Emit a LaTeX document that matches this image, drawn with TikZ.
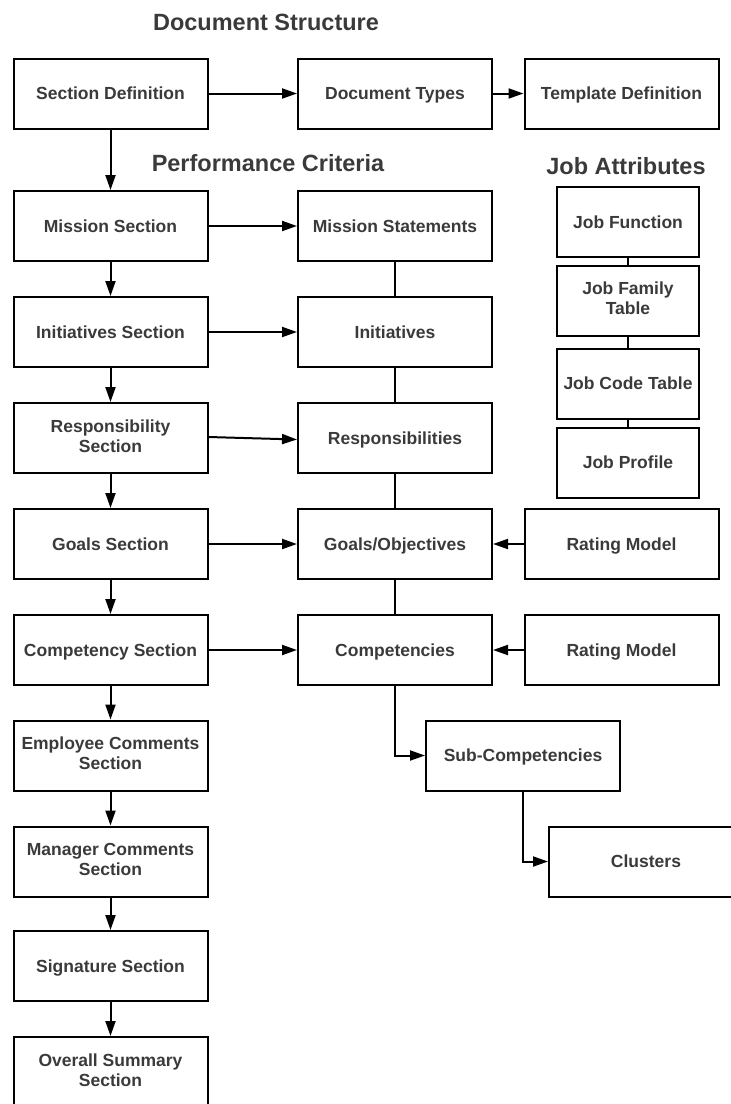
\documentclass[tikz,border=0pt]{standalone}
\usepackage{fontspec}
\setmainfont{Liberation Sans}
\usepackage{xcolor}
\usetikzlibrary{arrows.meta}
\definecolor{labelgray}{RGB}{58, 58, 58}
\newcommand{\boxstrut}{\rule[-4pt]{0pt}{20.5pt}}

\begin{document}
\begin{tikzpicture}[x=1pt, y=-1pt, line width=2pt,
  box/.style={rectangle, draw=black, line width=2pt, minimum width=194pt, minimum height=70pt,
    align=center, text=labelgray, font=\fontsize{17.5}{20}\selectfont\bfseries,
    execute at begin node=\boxstrut, execute at end node=\boxstrut},
  jobbox/.style={box, minimum width=142pt},
  title/.style={text=labelgray, font=\fontsize{23.5}{26}\selectfont\bfseries},
  arr/.style={-{Triangle[length=15pt, width=10pt]}},
  link/.style={-}]
\useasboundingbox (0,0) rectangle (731,1104);

% Headings
\node[title] (hdoc) at (266,22) {Document Structure};
\node[title] (hperf) at (268,163) {Performance Criteria};
\node[title] (hjob) at (626,166) {Job Attributes};

% Document structure row
\node[box] (secdef) at (110.5,93.5) {Section Definition};
\node[box] (doctypes) at (395,93.5) {Document Types};
\node[box] (template) at (621.5,93.5) {Template Definition};

% Section column
\node[box] (mission) at (110.5,226) {Mission Section};
\node[box] (initsec) at (110.5,332) {Initiatives Section};
\node[box] (respsec) at (110.5,438) {Responsibility\\Section};
\node[box] (goalsec) at (110.5,544) {Goals Section};
\node[box] (compsec) at (110.5,650) {Competency Section};
\node[box] (empsec) at (110.5,755.5) {Employee Comments\\Section};
\node[box] (mgrsec) at (110.5,861.5) {Manager Comments\\Section};
\node[box] (signsec) at (110.5,966) {Signature Section};
\node[box] (sumsec) at (110.5,1072) {Overall Summary\\Section};

% Criteria column
\node[box] (statements) at (395,226) {Mission Statements};
\node[box] (initiatives) at (395,332) {Initiatives};
\node[box] (resp) at (395,438) {Responsibilities};
\node[box] (goals) at (395,544) {Goals/Objectives};
\node[box] (comps) at (395,650) {Competencies};
\node[box] (subcomps) at (523,755.5) {Sub-Competencies};
\node[box] (clusters) at (646,861.5) {Clusters};

% Rating models
\node[box] (rategoals) at (621.5,544) {Rating Model};
\node[box] (ratecomps) at (621.5,650) {Rating Model};

% Job attributes
\node[jobbox] (jobfunc) at (628,222) {Job Function};
\node[jobbox] (jobfam) at (628,300.5) {Job Family\\Table};
\node[jobbox] (jobcode) at (628,383.5) {Job Code Table};
\node[jobbox] (jobprof) at (628,462.5) {Job Profile};

% Top row arrows
\draw[arr] (secdef) -- (doctypes);
\draw[arr] (doctypes) -- (template);

% Section chain
\draw[arr] (secdef) -- (mission);
\draw[arr] (mission) -- (initsec);
\draw[arr] (initsec) -- (respsec);
\draw[arr] (respsec) -- (goalsec);
\draw[arr] (goalsec) -- (compsec);
\draw[arr] (compsec) -- (empsec);
\draw[arr] (empsec) -- (mgrsec);
\draw[arr] (mgrsec) -- (signsec);
\draw[arr] (signsec) -- (sumsec);

% Sections to criteria
\draw[arr] (mission) -- (statements);
\draw[arr] (initsec) -- (initiatives);
\draw[arr] ([yshift=1pt]respsec.east) -- ([yshift=-1.5pt]resp.west);
\draw[arr] (goalsec) -- (goals);
\draw[arr] (compsec) -- (comps);
\draw[arr] (rategoals) -- (goals);
\draw[arr] (ratecomps) -- (comps);

% Criteria links
\draw[link] (statements) -- (initiatives);
\draw[link] (initiatives) -- (resp);
\draw[link] (resp) -- (goals);
\draw[link] (goals) -- (comps);
\draw[arr] (comps.south) |- (subcomps.west);
\draw[arr] (subcomps.south) |- (clusters.west);

% Job attribute links
\draw[link] (jobfunc) -- (jobfam);
\draw[link] (jobfam) -- (jobcode);
\draw[link] (jobcode) -- (jobprof);

\end{tikzpicture}
\end{document}
